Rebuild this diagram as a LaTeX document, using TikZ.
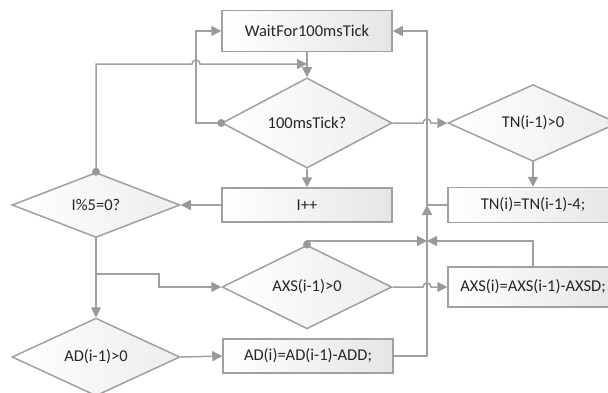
\documentclass[tikz,border=0pt]{standalone}
\usepackage{fontspec}
\setmainfont{Carlito}
\usetikzlibrary{shapes.geometric,arrows.meta,calc}
\definecolor{edge}{HTML}{A0A0A0}
\definecolor{tip}{HTML}{999999}
\definecolor{txt}{HTML}{262626}
\tikzset{
  every node/.style={font=\fontsize{16.5}{19}\selectfont, text=txt},
  procbox/.style={draw=edge, line width=1.5pt, rectangle, inner sep=0pt,
    minimum width=170pt, left color=white, right color=black!10},
  decide/.style={draw=edge, line width=1.5pt, diamond, inner sep=0pt,
    minimum width=170pt, minimum height=70pt, left color=white, right color=black!7},
  conn/.style={draw=edge, line width=1.5pt},
  arr/.style={conn, -{Triangle[length=10pt,width=10pt,color=tip]}},
  dot/.style={circle, fill=tip, inner sep=0pt, minimum size=8pt},
}
\begin{document}
\begin{tikzpicture}[x=1pt,y=-1pt]
\useasboundingbox (0,0) rectangle (608,392);
\begin{scope}
\clip (0,0) rectangle (608,392);
% process boxes
\node[procbox, minimum height=41pt] (wait) at (307,31) {WaitFor100msTick};
\node[procbox, minimum height=34pt] (inc) at (307,205) {I++};
\node[procbox, minimum height=35pt] (tnbox) at (533,205) {TN(i)=TN(i-1)-4;};
\node[procbox, minimum height=40pt] (axsbox) at (533,287) {AXS(i)=AXS(i-1)-AXSD;};
\node[procbox, minimum height=34pt] (adbox) at (308,356) {AD(i)=AD(i-1)-ADD;};
% decisions
\node[decide] (tick) at (307,123) {100msTick?};
\node[decide] (tn) at (533,123) {TN(i-1)>0};
\node[decide, minimum width=168pt, minimum height=65pt] (mod) at (96,205) {I\%5=0?};
\node[decide, minimum height=68pt] (axs) at (307,287) {AXS(i-1)>0};
\node[decide, minimum width=168pt] (ad) at (96,357) {AD(i-1)>0};

% junction points on connectors
\coordinate (jtop) at (307,64);
\coordinate (jmid) at (427,241);
\coordinate (jtn) at (427,205);
\coordinate (jbr) at (96,274);

% main loop
\draw[arr] (wait.south) -- (tick.north);
\draw[arr] (tick.west) -- (196,123) -- (196,31) -- (wait.west);
\draw[arr] (mod.north) -- (96,64) -- (192,64) arc[start angle=180,end angle=0,radius=4pt] -- (jtop);
\draw[arr] (tick.south) -- (inc.north);
\draw[arr] (inc.west) -- (mod.east);
\draw[arr] (tick.east) -- (423,123) arc[start angle=180,end angle=0,radius=4pt] -- (tn.west);
\draw[arr] (tn.south) -- (tnbox.north);
\draw[arr] (tnbox.west) -- (jtn) -- (427,31) -- (wait.east);
\draw[arr] (adbox.east) -- (427,356) -- (jtn);
\draw[arr] (axs.north) -- (307,241) -- (jmid);
\draw[arr] (axsbox.north) -- (533,241) -- (jmid);
\draw[arr] (axs.east) -- (423,287) arc[start angle=180,end angle=0,radius=4pt] -- (axsbox.west);
\draw[arr] (mod.south) -- (ad.north);
\draw[arr] (jbr) -- (159,274) -- (159,287) -- (axs.west);
\draw[arr] (ad.east) -- (adbox.west);

% branch dots
\node[dot] at (tick.west) {};
\node[dot] at (mod.north) {};
\node[dot] at (axs.north) {};
\end{scope}
\end{tikzpicture}
\end{document}
